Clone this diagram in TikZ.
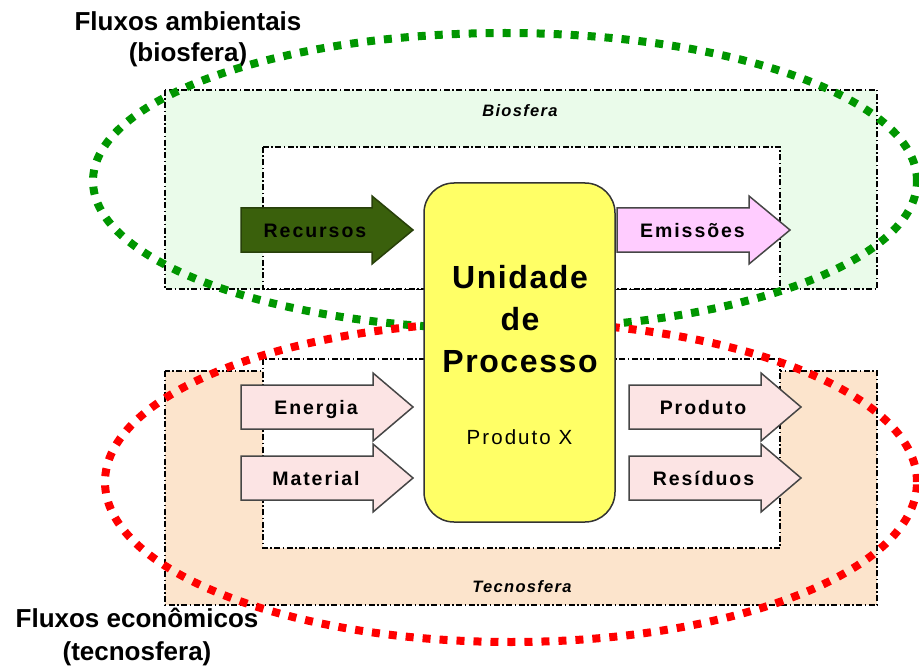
\documentclass[tikz,border=0pt]{standalone}
\usepackage{fontspec}
\setmainfont{Liberation Sans}
\newfontfamily\spacedten[LetterSpace=10]{Liberation Sans}
\newfontfamily\spacedeight[LetterSpace=8]{Liberation Sans}
\newfontfamily\spacedfive[LetterSpace=5]{Liberation Sans}
\definecolor{bioFill}{RGB}{234,251,234}
\definecolor{tecFill}{RGB}{252,228,204}
\definecolor{procYellow}{RGB}{255,255,102}
\definecolor{recGreen}{RGB}{58,96,12}
\definecolor{recBorder}{RGB}{40,64,10}
\definecolor{emiPink}{RGB}{255,204,255}
\definecolor{lightPink}{RGB}{252,228,228}
\definecolor{arrowEdge}{RGB}{70,70,70}
\definecolor{dotGreen}{RGB}{0,150,0}
\definecolor{dotRed}{RGB}{255,0,0}
\newcommand{\flowarrow}[5]{% x0, xh, xt, yc, style
  \draw[#5] (#1,#4-22) -- (#2,#4-22) -- (#2,#4-34) -- (#3,#4) -- (#2,#4+34) -- (#2,#4+22) -- (#1,#4+22) -- cycle;}
\begin{document}
\begin{tikzpicture}[x=1pt,y=-1pt,
  spherebox/.style={draw=black, line width=1.3pt, dash pattern=on 6pt off 2.5pt on 1.5pt off 2.5pt},
  spherelabel/.style={font=\spacedeight\bfseries\itshape\fontsize{16.5}{19}\selectfont, inner sep=0pt},
  arrowshape/.style={draw=arrowEdge, line width=1.5pt, line join=miter},
  arrowlabel/.style={font=\spacedten\bfseries\fontsize{19.5}{23}\selectfont, inner sep=0pt, anchor=base},
  flowring/.style={line width=8pt, dash pattern=on 8pt off 9pt},
  bigtitle/.style={font=\bfseries\fontsize{26}{31}\selectfont, align=center, inner sep=0pt}
]
\useasboundingbox (0,0) rectangle (919,666);

% spheres
\draw[spherebox, fill=bioFill] (165,90) rectangle (877,289);
\draw[spherebox, fill=white] (263,147) rectangle (780,289);
\draw[spherebox, fill=tecFill] (165,371) rectangle (877,605);
\draw[spherebox, fill=white] (263,359) rectangle (780,548);
\node[spherelabel] (biolabel) at (520,111) {Biosfera};
\node[spherelabel] (teclabel) at (522,587) {Tecnosfera};

% outer labels
\node[bigtitle] (fluxamb) at (188,39.6) {Fluxos ambientais\\(biosfera)};
\node[bigtitle, font=\bfseries\fontsize{26}{33}\selectfont] (fluxeco) at (137,636.7) {Fluxos econômicos\\(tecnosfera)};

% dotted rings
\draw[flowring, draw=dotGreen] (505,181) ellipse [x radius=412pt, y radius=148pt];
\draw[flowring, draw=dotRed] (511,482) ellipse [x radius=406pt, y radius=160pt];

% arrows
\flowarrow{241}{372}{413}{230}{arrowshape, draw=recBorder, fill=recGreen}
\node[arrowlabel] (recursos) at (315,237) {Recursos};
\flowarrow{617}{749}{790}{230}{arrowshape, fill=emiPink}
\node[arrowlabel] (emissoes) at (692.5,237) {Emissões};
\flowarrow{241}{373}{413}{407}{arrowshape, fill=lightPink}
\node[arrowlabel] (energia) at (316,414) {Energia};
\flowarrow{241}{373}{413}{478}{arrowshape, fill=lightPink}
\node[arrowlabel] (material) at (316,485) {Material};
\flowarrow{629}{761}{801}{407}{arrowshape, fill=lightPink}
\node[arrowlabel] (produto) at (703,414) {Produto};
\flowarrow{629}{761}{801}{478}{arrowshape, fill=lightPink}
\node[arrowlabel] (residuos) at (703.5,485) {Resíduos};

% process unit
\node[draw=black!80, line width=1.5pt, fill=procYellow, rounded corners=30pt,
      minimum width=191pt, minimum height=339pt, inner sep=0pt] (proc) at (519.5,352.5) {};
\node[font=\spacedfive\bfseries\fontsize{32}{42}\selectfont, align=center, inner sep=0pt] (title) at (520,318.6) {Unidade\\de\\Processo};
\node[font=\spacedten\fontsize{20.5}{24}\selectfont, inner sep=0pt] (prodx) at (519.5,437.5) {Produto X};
\end{tikzpicture}
\end{document}
